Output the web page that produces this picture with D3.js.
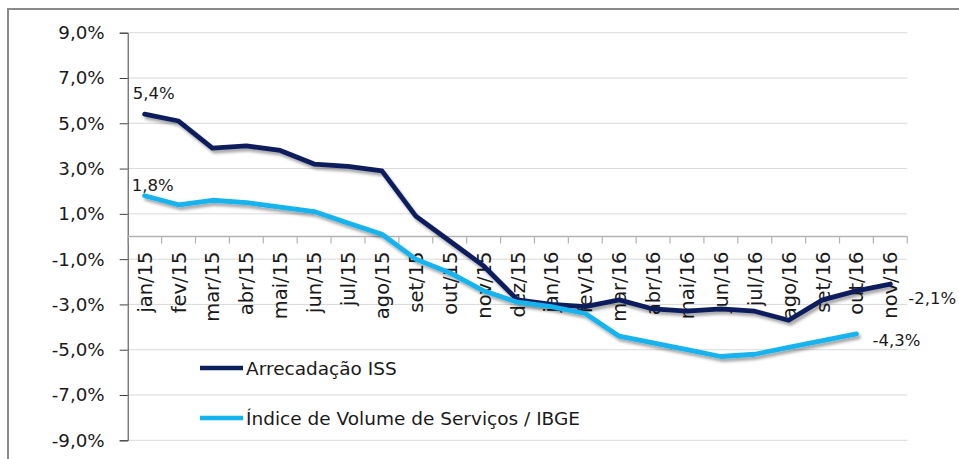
<!DOCTYPE html>
<html>
<head>
<meta charset="utf-8">
<script src="https://cdn.jsdelivr.net/npm/d3@7"></script>
<style>
  body { margin: 0; background: #fff; }
  text { font-family: "DejaVu Sans", sans-serif; fill: #1a1a1a; }
</style>
</head>
<body>
<script>
const months = [
  "jan/15", "fev/15", "mar/15", "abr/15", "mai/15", "jun/15", "jul/15", "ago/15",
  "set/15", "out/15", "nov/15", "dez/15", "jan/16", "fev/16", "mar/16", "abr/16",
  "mai/16", "jun/16", "jul/16", "ago/16", "set/16", "out/16", "nov/16",
];

// Arrecadação ISS
const issValues = [
  5.4, 5.1, 3.9, 4.0, 3.8, 3.2, 3.1, 2.9, 0.9, -0.2, -1.3, -2.8,
  -3.0, -3.1, -2.8, -3.2, -3.3, -3.2, -3.3, -3.7, -2.8, -2.4, -2.1,
];

// Índice de Volume de Serviços / IBGE (ends at out/16)
const ibgeValues = [
  1.8, 1.4, 1.6, 1.5, 1.3, 1.1, 0.6, 0.1, -1.0, -1.6, -2.4, -2.9,
  -3.1, -3.4, -4.4, -4.7, -5.0, -5.3, -5.2, -4.9, -4.6, -4.3,
];

const yTicks = [-9, -7, -5, -3, -1, 1, 3, 5, 7, 9];

const seriesNames = ["Arrecadação ISS", "Índice de Volume de Serviços / IBGE"];
const seriesColors = ["#0b1f5c", "#12b3ef"];

const width = 959, height = 459;

const svg = d3.select("body").append("svg")
  .attr("width", width)
  .attr("height", height);

const defs = svg.append("defs");
const shadow = defs.append("filter")
  .attr("id", "shadow")
  .attr("x", "-10%").attr("y", "-10%")
  .attr("width", "130%").attr("height", "140%");
shadow.append("feDropShadow")
  .attr("dx", 2).attr("dy", 3)
  .attr("stdDeviation", 1.6)
  .attr("flood-color", "#000")
  .attr("flood-opacity", 0.35);

// outer frame
svg.append("rect")
  .attr("x", 8).attr("y", 9)
  .attr("width", 980).attr("height", 480)
  .attr("fill", "none")
  .attr("stroke", "#8a8a8a")
  .attr("stroke-width", 2);

const x = d3.scaleBand().domain(months).range([127.7, 907.3]);
const y = d3.scaleLinear().domain([-9, 9]).range([440.3, 32.7]);
const cx = (d) => x(d) + x.bandwidth() / 2;

// gridlines
svg.append("g")
  .selectAll("line")
  .data(yTicks)
  .join("line")
  .attr("x1", x.range()[0])
  .attr("x2", x.range()[1])
  .attr("y1", (d) => y(d))
  .attr("y2", (d) => y(d))
  .attr("stroke", "#d9d9d9")
  .attr("stroke-width", 1);

// y axis
const yAxis = svg.append("g")
  .attr("transform", `translate(${x.range()[0]},0)`)
  .call(
    d3.axisLeft(y)
      .tickValues(yTicks)
      .tickSize(8)
      .tickPadding(15)
      .tickFormat((d) => d.toFixed(1).replace(".", ",") + "%")
  );
yAxis.select(".domain").attr("stroke", "#404040");
yAxis.selectAll(".tick line").attr("stroke", "#404040");
yAxis.selectAll(".tick text")
  .attr("font-size", 18.3)
  .attr("font-family", "DejaVu Sans, sans-serif")
  .attr("fill", "#1a1a1a");

// x axis at zero
const xAxis = svg.append("g")
  .attr("transform", `translate(0,${y(0)})`);
xAxis.append("line")
  .attr("x1", x.range()[0])
  .attr("x2", x.range()[1])
  .attr("stroke", "#b3b3b3")
  .attr("stroke-width", 1.5);
xAxis.selectAll(".xt")
  .data(months.map((m) => x(m)).concat([x.range()[1]]))
  .join("line")
  .attr("class", "xt")
  .attr("x1", (d) => d).attr("x2", (d) => d)
  .attr("y1", 0).attr("y2", 7)
  .attr("stroke", "#b3b3b3")
  .attr("stroke-width", 1.2);

svg.append("g")
  .selectAll("text")
  .data(months)
  .join("text")
  .attr("transform", (d) => `translate(${cx(d)},${y(0) + 15}) rotate(-90)`)
  .attr("text-anchor", "end")
  .attr("dy", "0.36em")
  .attr("font-size", 19.5)
  .text((d) => d);

// lines
const line = d3.line()
  .x((d, i) => cx(months[i]))
  .y((d) => y(d));

[issValues, ibgeValues].forEach((vals, k) => {
  svg.append("path")
    .datum(vals)
    .attr("d", line)
    .attr("fill", "none")
    .attr("stroke", seriesColors[k])
    .attr("stroke-width", 4.8)
    .attr("stroke-linejoin", "round")
    .attr("stroke-linecap", "round")
    .attr("filter", "url(#shadow)");
});

// data labels
const fmt = (v) => v.toFixed(1).replace(".", ",") + "%";
const labels = [
  { m: months[0], v: issValues[0], dx: 9, dy: -15, anchor: "middle" },
  { m: months[0], v: ibgeValues[0], dx: 8, dy: -5, anchor: "middle" },
  { m: months[22], v: issValues[22], dx: 18, dy: 20, anchor: "start" },
  { m: months[21], v: ibgeValues[21], dx: 16, dy: 12, anchor: "start" },
];
svg.append("g")
  .selectAll("text")
  .data(labels)
  .join("text")
  .attr("x", (d) => cx(d.m) + d.dx)
  .attr("y", (d) => y(d.v) + d.dy)
  .attr("text-anchor", (d) => d.anchor)
  .attr("font-size", 16.5)
  .text((d) => fmt(d.v));

// legend
const legend = svg.append("g");
const legendRows = legend.selectAll("g")
  .data(seriesNames)
  .join("g")
  .attr("transform", (d, i) => `translate(200,${368 + i * 50})`);
legendRows.append("line")
  .attr("x1", 0).attr("x2", 43)
  .attr("stroke", (d, i) => seriesColors[i])
  .attr("stroke-width", 4.5);
legendRows.append("text")
  .attr("x", 46)
  .attr("dy", "0.36em")
  .attr("font-size", 18.5)
  .text((d) => d);
</script>
</body>
</html>
